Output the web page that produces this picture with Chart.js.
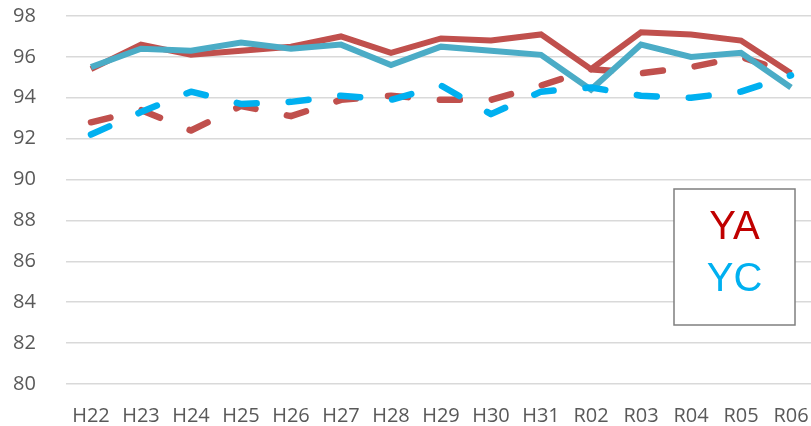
<!DOCTYPE html>
<html>
<head>
<meta charset="utf-8">
<script src="https://cdn.jsdelivr.net/npm/chart.js@4.4.1/dist/chart.umd.min.js"></script>
<style>
  html, body { margin: 0; padding: 0; background: #ffffff; overflow: hidden; }
  #wrap { width: 811px; height: 426px; overflow: hidden; position: relative; }
  canvas { display: block; }
</style>
</head>
<body>
<div id="wrap"><canvas id="chart" width="816" height="426"></canvas></div>
<script>
// Fiscal years (Heisei / Reiwa)
const years = ['H22', 'H23', 'H24', 'H25', 'H26', 'H27', 'H28', 'H29', 'H30', 'H31', 'R02', 'R03', 'R04', 'R05', 'R06'];

// Solid lines
const yaSolid = [95.4, 96.6, 96.1, 96.3, 96.5, 97.0, 96.2, 96.9, 96.8, 97.1, 95.4, 97.2, 97.1, 96.8, 95.2];
const ycSolid = [95.5, 96.4, 96.3, 96.7, 96.4, 96.6, 95.6, 96.5, 96.3, 96.1, 94.4, 96.6, 96.0, 96.2, 94.5];

// Dashed lines
const yaDashed = [92.8, 93.4, 92.4, 93.6, 93.1, 93.9, 94.1, 93.9, 93.9, 94.6, 95.4, 95.2, 95.5, 96.0, 95.2];
const ycDashed = [92.2, 93.3, 94.3, 93.7, 93.8, 94.1, 93.9, 94.6, 93.2, 94.3, 94.5, 94.1, 94.0, 94.3, 95.1];

// Y axis range and step
const yMin = 80;
const yMax = 98;
const yStep = 2;

// Text legend box drawn over the plot
const legendBox = {
  id: 'legendBox',
  afterDraw(chart) {
    const ctx = chart.ctx;
    ctx.save();
    const x = 674, y = 189, w = 121, h = 136;
    ctx.fillStyle = '#ffffff';
    ctx.fillRect(x, y, w, h);
    ctx.strokeStyle = '#7f7f7f';
    ctx.lineWidth = 1.5;
    ctx.strokeRect(x, y, w, h);
    ctx.font = '40px "Liberation Sans", Arial, sans-serif';
    ctx.textAlign = 'center';
    ctx.textBaseline = 'alphabetic';
    ctx.fillStyle = '#C00000';
    ctx.fillText('YA', x + w / 2, 239);
    ctx.fillStyle = '#00B0F0';
    ctx.fillText('YC', x + w / 2, 291);
    ctx.restore();
  }
};

const tickFont = { family: '"Open Sans", sans-serif', size: 20 };

new Chart(document.getElementById('chart'), {
  type: 'line',
  data: {
    labels: years,
    datasets: [
      {
        label: 'YC',
        data: ycDashed,
        borderColor: '#00B0F0',
        borderWidth: 6.5,
        borderDash: [20, 32],
        borderCapStyle: 'round',
        borderJoinStyle: 'round',
        order: 0
      },
      {
        label: 'YC',
        data: ycSolid,
        borderColor: '#4BACC6',
        borderWidth: 6,
        borderJoinStyle: 'miter',
        order: 1
      },
      {
        label: 'YA',
        data: yaSolid,
        borderColor: '#C0504D',
        borderWidth: 6,
        borderJoinStyle: 'miter',
        order: 2
      },
      {
        label: 'YA',
        data: yaDashed,
        borderColor: '#C0504D',
        borderWidth: 6.5,
        borderDash: [20, 32],
        borderCapStyle: 'round',
        borderJoinStyle: 'round',
        order: 3
      }
    ]
  },
  options: {
    responsive: false,
    animation: false,
    devicePixelRatio: 1,
    layout: { padding: { top: 16, left: 13, right: 0, bottom: 0 } },
    elements: {
      point: { radius: 0, hoverRadius: 0 },
      line: { tension: 0, fill: false }
    },
    plugins: {
      legend: { display: false },
      tooltip: { enabled: false }
    },
    scales: {
      x: {
        offset: true,
        grid: { display: false, drawTicks: false },
        border: { display: false },
        ticks: {
          color: '#595959',
          font: { family: tickFont.family, size: tickFont.size, lineHeight: '64px' },
          padding: 0,
          maxRotation: 0,
          autoSkip: false
        },
        afterFit(scale) { scale.height = 42; }
      },
      y: {
        min: yMin,
        max: yMax,
        grid: { color: '#d9d9d9', lineWidth: 1.5, drawTicks: false },
        border: { display: false },
        ticks: {
          stepSize: yStep,
          color: '#595959',
          font: tickFont,
          padding: 0,
          crossAlign: 'far'
        },
        afterFit(scale) { scale.width = 53; }
      }
    }
  },
  plugins: [legendBox]
});
</script>
</body>
</html>
